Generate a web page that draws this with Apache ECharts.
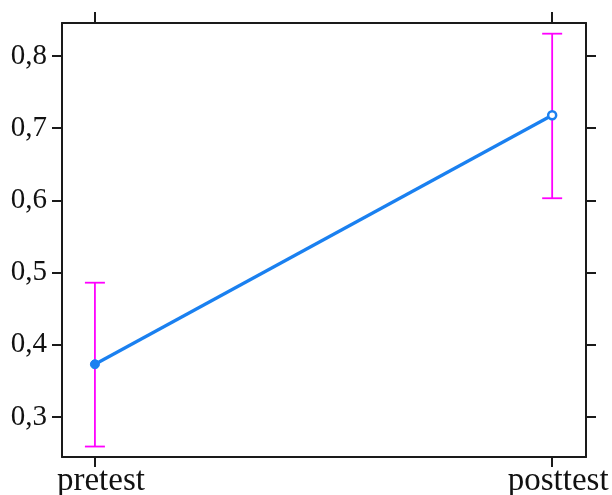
<!DOCTYPE html>
<html>
<head>
<meta charset="utf-8">
<style>
  html, body { margin: 0; padding: 0; background: #ffffff; }
  #chart { width: 612px; height: 495px; }
</style>
<script src="https://cdn.jsdelivr.net/npm/echarts@6/dist/echarts.min.js"></script>
</head>
<body>
<div id="chart"></div>
<script>
// Measurement occasions and their positions on the x scale
const categories = ['pretest', 'posttest'];
const xPositions = [0, 1];

// Group means with lower / upper interval limits
const means = [0.373, 0.718];
const lower = [0.259, 0.603];
const upper = [0.486, 0.831];

// Y tick values
const yTicks = [0.3, 0.4, 0.5, 0.6, 0.7, 0.8];

const chart = echarts.init(document.getElementById('chart'), null, { renderer: 'canvas' });

const axisColor = '#1a1a1a';
const fontFamily = '"Liberation Serif", "DejaVu Serif", serif';

const lineData = means.map((m, i) => ({
  value: [xPositions[i], m],
  symbol: 'circle',
  symbolSize: i === 0 ? 9 : 8,
  itemStyle: i === 0
    ? { color: '#1a80f0', borderColor: '#1a80f0', borderWidth: 1 }
    : { color: '#ffffff', borderColor: '#1a80f0', borderWidth: 2.5 }
}));

const errData = means.map((m, i) => [xPositions[i], lower[i], upper[i]]);

const xCommon = {
  type: 'value',
  min: -0.072,
  max: 1.074,
  splitLine: { show: false },
  axisLine: { show: true, onZero: false, lineStyle: { color: axisColor, width: 2 } }
};
const yCommon = {
  type: 'value',
  min: 0.2445,
  max: 0.8458,
  splitLine: { show: false },
  axisLine: { show: true, onZero: false, lineStyle: { color: axisColor, width: 2 } }
};

chart.setOption({
  animation: false,
  backgroundColor: '#ffffff',
  grid: { left: 62, right: 26, top: 23, bottom: 38, containLabel: false, outerBoundsMode: 'none' },
  xAxis: [
    Object.assign({}, xCommon, {
      position: 'bottom',
      axisTick: { show: true, customValues: xPositions, length: 10, lineStyle: { color: axisColor, width: 2 } },
      axisLabel: {
        show: true,
        customValues: xPositions,
        formatter: v => categories[xPositions.indexOf(v)] || '',
        color: '#111',
        fontFamily: fontFamily,
        fontSize: 33,
        margin: 8,
        padding: [0, 0, 0, 12]
      }
    }),
    Object.assign({}, xCommon, {
      position: 'top',
      axisTick: { show: true, customValues: xPositions, length: 11, lineStyle: { color: axisColor, width: 2 } },
      axisLabel: { show: false }
    })
  ],
  yAxis: [
    Object.assign({}, yCommon, {
      position: 'left',
      axisTick: { show: true, customValues: yTicks, length: 10, lineStyle: { color: axisColor, width: 2 } },
      axisLabel: {
        show: true,
        customValues: yTicks,
        formatter: v => v.toFixed(1).replace('.', ','),
        color: '#111',
        fontFamily: fontFamily,
        fontSize: 29,
        margin: 15
      }
    }),
    Object.assign({}, yCommon, {
      position: 'right',
      axisTick: { show: true, customValues: yTicks, length: 10, lineStyle: { color: axisColor, width: 2 } },
      axisLabel: { show: false }
    })
  ],
  series: [
    {
      type: 'custom',
      xAxisIndex: 0,
      yAxisIndex: 0,
      data: errData,
      z: 2,
      renderItem: function (params, api) {
        const x = api.value(0);
        const lo = api.coord([x, api.value(1)]);
        const hi = api.coord([x, api.value(2)]);
        const half = 10;
        const style = { stroke: '#ff00ff', lineWidth: 1.8, fill: null };
        return {
          type: 'group',
          children: [
            { type: 'line', shape: { x1: lo[0], y1: lo[1], x2: hi[0], y2: hi[1] }, style: style },
            { type: 'line', shape: { x1: lo[0] - half, y1: lo[1], x2: lo[0] + half, y2: lo[1] }, style: style },
            { type: 'line', shape: { x1: hi[0] - half, y1: hi[1], x2: hi[0] + half, y2: hi[1] }, style: style }
          ]
        };
      }
    },
    {
      type: 'line',
      xAxisIndex: 0,
      yAxisIndex: 0,
      data: lineData,
      z: 3,
      lineStyle: { color: '#1a80f0', width: 3.2 },
      itemStyle: { color: '#1a80f0' }
    }
  ]
});
</script>
</body>
</html>
